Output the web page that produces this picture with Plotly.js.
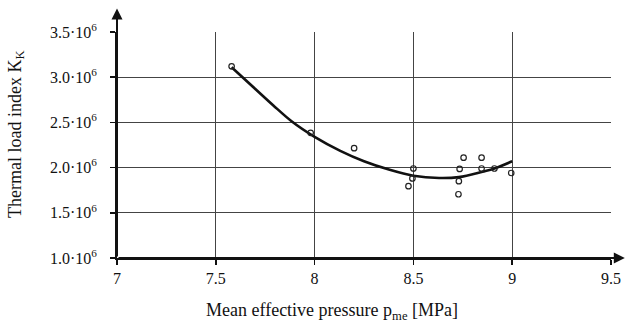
<!DOCTYPE html>
<html>
<head>
<meta charset="utf-8">
<script src="https://cdn.plot.ly/plotly-3.0.1.min.js"></script>
<style>html,body{margin:0;padding:0;background:#fff}#chart{width:626px;height:324px}</style>
</head>
<body>
<div id="chart"></div>
<script>
// Measured points: mean effective pressure [MPa] vs thermal load index
const pointsX = [7.58, 7.98, 8.20, 8.50, 8.495, 8.475, 8.754, 8.734, 8.73, 8.728, 8.845, 8.845, 8.91, 8.995];
const pointsY = [3.12e6, 2.385e6, 2.215e6, 1.99e6, 1.88e6, 1.795e6, 2.11e6, 1.985e6, 1.85e6, 1.705e6, 2.11e6, 1.99e6, 1.99e6, 1.94e6];
// Fitted trend curve
const curveX = [7.58, 7.70, 7.79, 7.885, 8.00, 8.13, 8.25, 8.38, 8.50, 8.63, 8.73, 8.85, 8.91, 9.00];
const curveY = [3.11e6, 2.87e6, 2.69e6, 2.51e6, 2.34e6, 2.185e6, 2.07e6, 1.975e6, 1.91e6, 1.885e6, 1.895e6, 1.955e6, 1.99e6, 2.07e6];
// Tick labels and titles
const xTicks = [7, 7.5, 8, 8.5, 9, 9.5];
const xTickText = ['7', '7.5', '8', '8.5', '9', '9.5'];
const yTicks = [1.0e6, 1.5e6, 2.0e6, 2.5e6, 3.0e6, 3.5e6];
const yTickText = ['1.0·10<sup>6</sup>', '1.5·10<sup>6</sup>', '2.0·10<sup>6</sup>', '2.5·10<sup>6</sup>', '3.0·10<sup>6</sup>', '3.5·10<sup>6</sup>'];
const xTitle = 'Mean effective pressure p<sub>me</sub> [MPa]';
const yTitle = 'Thermal load index K<sub>K</sub>';

const fam = '"Liberation Serif", "Times New Roman", serif';
const tickFont = {family: fam, size: 16, color: '#111'};
const titleFont = {family: fam, size: 18, color: '#111'};

const traces = [
  {x: curveX, y: curveY, mode: 'lines', type: 'scatter',
   line: {color: '#111', width: 2.6, shape: 'spline', smoothing: 1}, hoverinfo: 'skip', cliponaxis: false},
  {x: pointsX, y: pointsY, mode: 'markers', type: 'scatter',
   marker: {symbol: 'circle-open', size: 5.5, color: '#222', line: {width: 1.2, color: '#222'}}, cliponaxis: false}
];

const layout = {
  width: 626, height: 324,
  margin: {l: 117, r: 15, t: 32, b: 66},
  paper_bgcolor: '#fff', plot_bgcolor: '#fff',
  font: tickFont,
  showlegend: false,
  xaxis: {
    range: [7, 9.5], tickvals: xTicks, ticktext: xTickText,
    showgrid: true, gridcolor: '#444', gridwidth: 1,
    showline: true, linecolor: '#111', linewidth: 2,
    ticks: 'outside', ticklen: 5, tickcolor: '#111', tickwidth: 1.5,
    zeroline: false, tickfont: tickFont, ticklabelstandoff: 0
  },
  yaxis: {
    range: [1.0e6, 3.5e6], tickvals: yTicks, ticktext: yTickText,
    showgrid: true, gridcolor: '#444', gridwidth: 1,
    showline: true, linecolor: '#111', linewidth: 2,
    ticks: 'outside', ticklen: 5, tickcolor: '#111', tickwidth: 1.5,
    zeroline: false, tickfont: tickFont, ticklabelstandoff: 10
  },
  annotations: [
    {x: 7, y: 3.76e6, xref: 'x', yref: 'y', ax: 7, ay: 1.0e6, axref: 'x', ayref: 'y',
     showarrow: true, arrowhead: 2, arrowsize: 1.1, arrowwidth: 2, arrowcolor: '#111', text: ''},
    {x: 9.57, y: 1.0e6, xref: 'x', yref: 'y', ax: 7, ay: 1.0e6, axref: 'x', ayref: 'y',
     showarrow: true, arrowhead: 2, arrowsize: 1.1, arrowwidth: 2, arrowcolor: '#111', text: ''},
    {text: xTitle, xref: 'paper', yref: 'paper', x: 0.435, y: -0.235, xanchor: 'center', yanchor: 'middle',
     showarrow: false, font: titleFont},
    {text: yTitle, xref: 'paper', yref: 'paper', x: -0.204, y: 0.55, xanchor: 'center', yanchor: 'middle',
     textangle: -90, showarrow: false, font: titleFont}
  ]
};

Plotly.newPlot('chart', traces, layout, {displayModeBar: false, staticPlot: true});
</script>
</body>
</html>
